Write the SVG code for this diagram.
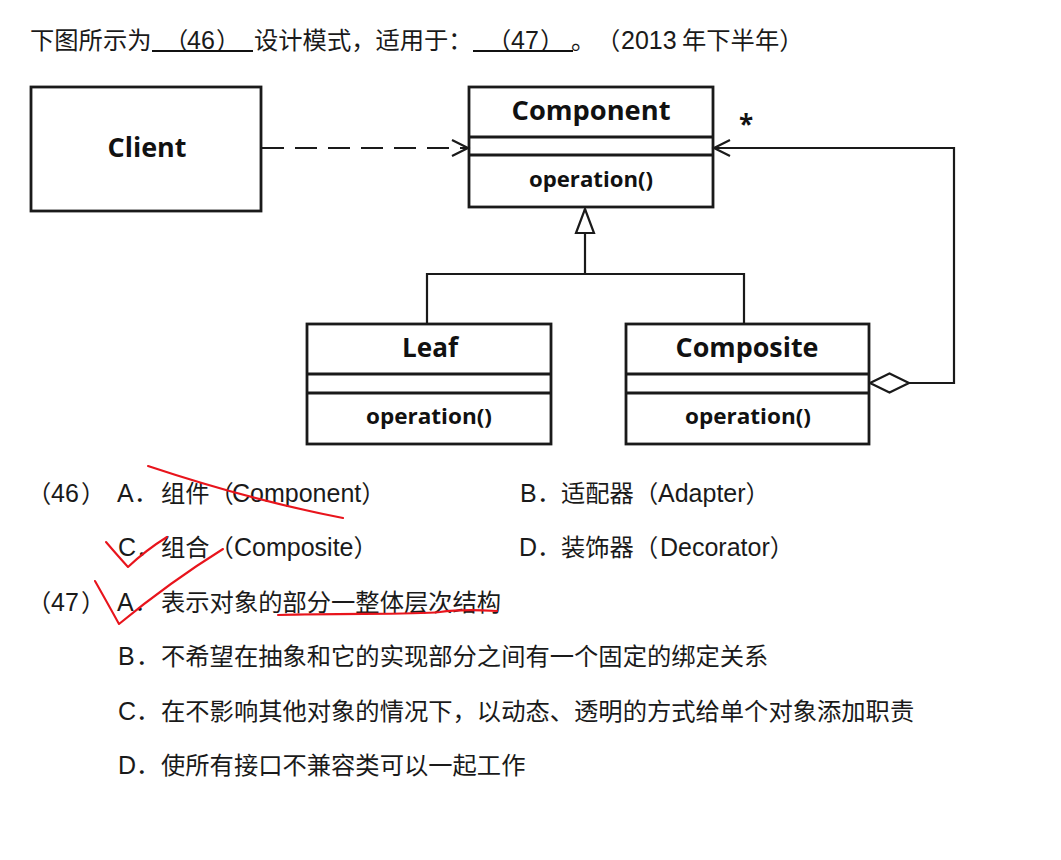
<svg xmlns="http://www.w3.org/2000/svg" width="1061" height="860" viewBox="0 0 1061 860">
<style>
.t{font-family:"Liberation Sans","Noto Sans CJK SC",sans-serif;font-size:24.3px;fill:#1a1a1a}
.l{font-size:25px}
.box{fill:#fff;stroke:#1a1a1a;stroke-width:2.8}
.div{stroke:#1a1a1a;stroke-width:2.8}
.u{font-family:"Open Sans","DejaVu Sans",sans-serif;font-weight:700;fill:#111;text-anchor:middle}
.ln{fill:none;stroke:#1a1a1a;stroke-width:2.2}
.red{fill:none;stroke:#e8141c;stroke-width:2.1;stroke-linecap:round;stroke-linejoin:round}
.ul{stroke:#111;stroke-width:2}
</style>
<defs>
<marker id="open" viewBox="0 0 20 20" refX="17" refY="10" markerWidth="20" markerHeight="20" markerUnits="userSpaceOnUse" orient="auto"><path d="M1,2 L17,10 L1,18" fill="none" stroke="#1a1a1a" stroke-width="2.2"/></marker>
<marker id="tri" viewBox="0 0 26 22" refX="25" refY="11" markerWidth="26" markerHeight="22" markerUnits="userSpaceOnUse" orient="auto"><path d="M1,2 L25,11 L1,20 Z" fill="#fff" stroke="#1a1a1a" stroke-width="2.2"/></marker>
<marker id="dia" viewBox="0 0 42 22" refX="1" refY="11" markerWidth="42" markerHeight="22" markerUnits="userSpaceOnUse" orient="auto"><path d="M1,11 L20.5,1.5 L40,11 L20.5,20.5 Z" fill="#fff" stroke="#1a1a1a" stroke-width="2.2"/></marker>
</defs>
<rect width="1061" height="860" fill="#fff"/>

<g id="question">
<text class="t" y="49"><tspan x="30">下图所示为</tspan><tspan x="164">（</tspan><tspan x="187" class="l">46</tspan><tspan x="216">）</tspan><tspan x="254">设计模式，适用于：</tspan><tspan x="487">（</tspan><tspan x="511" class="l">47</tspan><tspan x="540">）</tspan><tspan x="571">。</tspan><tspan x="596">（</tspan><tspan x="621" class="l">2013 </tspan><tspan x="682">年下半年）</tspan></text>
<line class="ul" x1="152" y1="51" x2="253" y2="51"/>
<line class="ul" x1="473" y1="51" x2="573" y2="51"/>
</g>

<g id="client">
<rect class="box" x="31" y="87" width="230" height="124"/>
<text class="u" x="147" y="157" font-size="26" textLength="79" lengthAdjust="spacingAndGlyphs">Client</text>
</g>

<g id="component">
<rect class="box" x="469" y="87" width="244" height="120"/>
<line class="div" x1="469" y1="137" x2="713" y2="137"/>
<line class="div" x1="469" y1="155" x2="713" y2="155"/>
<text class="u" x="591" y="120" font-size="26" textLength="159" lengthAdjust="spacingAndGlyphs">Component</text>
<text class="u" x="591" y="187" font-size="21" textLength="124" lengthAdjust="spacingAndGlyphs">operation()</text>
</g>

<g id="leaf">
<rect class="box" x="307" y="324" width="244" height="120"/>
<line class="div" x1="307" y1="374" x2="551" y2="374"/>
<line class="div" x1="307" y1="393" x2="551" y2="393"/>
<text class="u" x="430" y="357" font-size="26" textLength="56" lengthAdjust="spacingAndGlyphs">Leaf</text>
<text class="u" x="429" y="424" font-size="21" textLength="126" lengthAdjust="spacingAndGlyphs">operation()</text>
</g>

<g id="composite">
<rect class="box" x="626" y="324" width="243" height="120"/>
<line class="div" x1="626" y1="374" x2="869" y2="374"/>
<line class="div" x1="626" y1="393" x2="869" y2="393"/>
<text class="u" x="747" y="357" font-size="26" textLength="143" lengthAdjust="spacingAndGlyphs">Composite</text>
<text class="u" x="748" y="424" font-size="21" textLength="126" lengthAdjust="spacingAndGlyphs">operation()</text>
</g>

<g id="connectors">
<line class="ln" x1="262" y1="148" x2="468" y2="148" stroke-dasharray="22 11" marker-end="url(#open)"/>
<polyline class="ln" points="427,323 427,274 744,274 744,323"/>
<line class="ln" x1="585" y1="274" x2="585" y2="209" marker-end="url(#tri)"/>
<polyline class="ln" points="870,383 954,383 954,148 714,148" marker-start="url(#dia)" marker-end="url(#open)"/>
<text class="u" x="746" y="134" font-size="26">*</text>
</g>

<g id="answers">
<text class="t" y="502"><tspan x="27">（</tspan><tspan x="51" class="l">46</tspan><tspan x="81">）</tspan><tspan x="117" class="l">A</tspan><tspan x="134">．</tspan><tspan x="161">组件（</tspan><tspan x="232" class="l">Component</tspan><tspan>）</tspan></text>
<text class="t" y="502"><tspan x="520" class="l">B</tspan><tspan x="537">．</tspan><tspan x="561">适配器（</tspan><tspan x="658" class="l">Adapter</tspan><tspan>）</tspan></text>
<text class="t" y="556"><tspan x="118" class="l">C</tspan><tspan x="136">．</tspan><tspan x="161">组合（</tspan><tspan x="234" class="l">Composite</tspan><tspan>）</tspan></text>
<text class="t" y="556"><tspan x="519" class="l">D</tspan><tspan x="537">．</tspan><tspan x="561">装饰器（</tspan><tspan x="660" class="l">Decorator</tspan><tspan>）</tspan></text>
<text class="t" y="611"><tspan x="27">（</tspan><tspan x="51" class="l">47</tspan><tspan x="81">）</tspan><tspan x="117" class="l">A</tspan><tspan x="134">．</tspan><tspan x="161">表示对象的部分一整体层次结构</tspan></text>
<text class="t" y="665"><tspan x="118" class="l">B</tspan><tspan x="136">．</tspan><tspan x="161">不希望在抽象和它的实现部分之间有一个固定的绑定关系</tspan></text>
<text class="t" y="720"><tspan x="118" class="l">C</tspan><tspan x="136">．</tspan><tspan x="161">在不影响其他对象的情况下，以动态、透明的方式给单个对象添加职责</tspan></text>
<text class="t" y="774"><tspan x="118" class="l">D</tspan><tspan x="136">．</tspan><tspan x="161">使所有接口不兼容类可以一起工作</tspan></text>
</g>

<g id="annotations">
<path class="red" d="M148,466 Q250,500 343,518"/>
<path class="red" d="M106,542 Q118,556 128,567 Q146,550 167,537"/>
<path class="red" d="M95,581 Q108,604 119,624 Q170,582 223,549"/>
<path class="red" d="M278,615 C350,613 410,615 440,612 C460,609 480,610 497,611"/>
</g>
</svg>
